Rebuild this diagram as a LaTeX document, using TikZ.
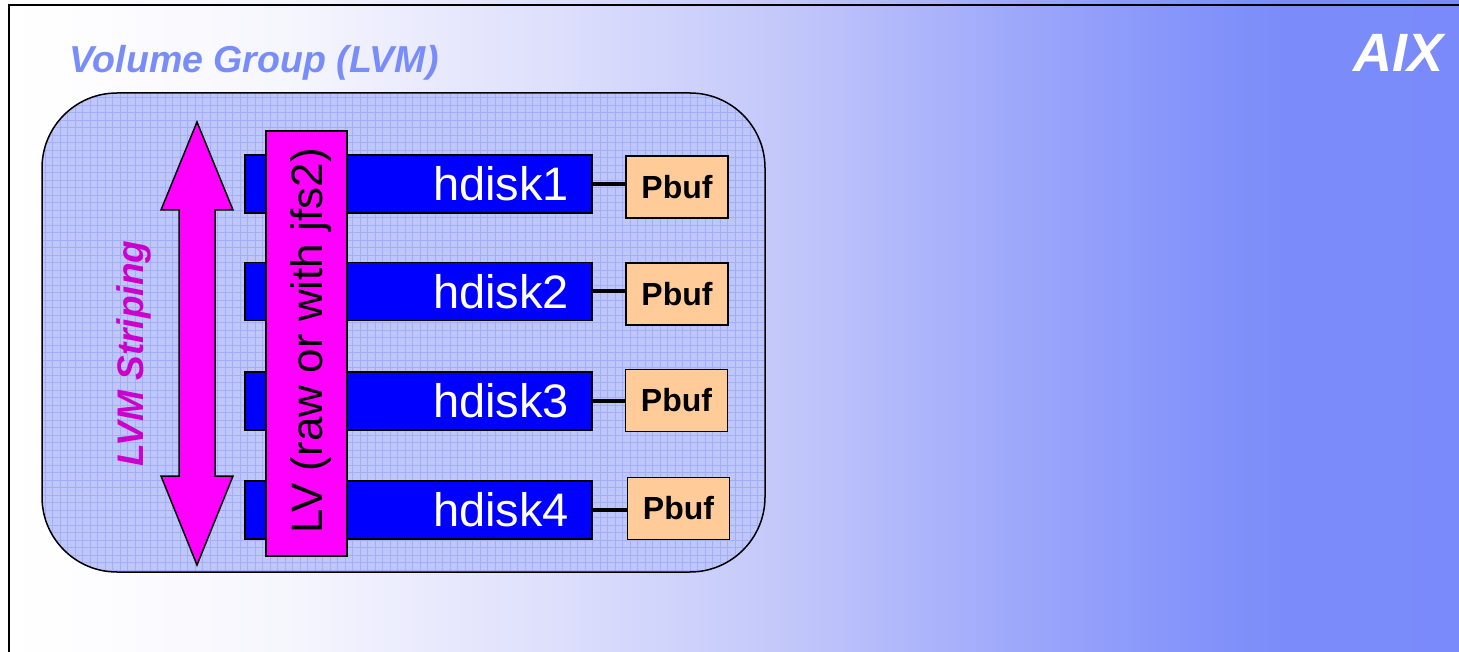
\documentclass[tikz,border=0pt]{standalone}
\usepackage{fontspec}
\setmainfont{Liberation Sans}
\usetikzlibrary{calc}

\definecolor{titleblue}{RGB}{120,140,250}
\definecolor{vgfill}{RGB}{190,198,250}
\definecolor{vggrid}{RGB}{162,174,248}
\definecolor{diskblue}{RGB}{0,0,255}
\definecolor{lvmag}{RGB}{255,0,255}
\definecolor{stripemag}{RGB}{204,0,204}
\definecolor{pbuffill}{RGB}{255,204,153}

% slide background: white on the left fading into blue on the right
\pgfdeclarehorizontalshading{slidebg}{100bp}{%
  rgb(0bp)=(1,1,1);
  rgb(25bp)=(1,1,1);
  rgb(28.4bp)=(0.992,0.992,1);
  rgb(35.3bp)=(0.961,0.961,0.992);
  rgb(43.8bp)=(0.871,0.878,0.988);
  rgb(52.4bp)=(0.757,0.776,0.980);
  rgb(59.3bp)=(0.627,0.667,0.980);
  rgb(64.4bp)=(0.541,0.596,0.980);
  rgb(69.0bp)=(0.482,0.549,0.980);
  rgb(75bp)=(0.478,0.541,0.980);
  rgb(100bp)=(0.478,0.541,0.980)}

\tikzset{
  disk/.style={rectangle, draw=black, line width=1.5pt, fill=diskblue,
    minimum width=347pt, minimum height=58pt, inner xsep=23pt, inner ysep=0pt,
    text width=301pt, align=right, text=white,
    font=\fontsize{47}{50}\selectfont},
  pbuf/.style={rectangle, draw=black, line width=1.5pt, fill=pbuffill,
    minimum width=102pt, minimum height=62pt, inner sep=0pt,
    font=\fontsize{32}{34}\selectfont\bfseries},
  link/.style={draw=black, line width=4pt},
  outline/.style={draw=black, line width=1.5pt},
}

\begin{document}
\begin{tikzpicture}[x=1pt,y=-1pt]
\useasboundingbox (0,0) rectangle (1459,652);

% background and frame
\shade[shading=slidebg] (0,0) rectangle (1459,652);
\draw[black, line width=2.5pt] (1459,5) -- (9,5) -- (9,652);

% titles
\node[anchor=base west, inner sep=0pt, text=titleblue,
      font=\fontsize{37.5}{40}\selectfont\bfseries\itshape] (vgtitle) at (69,73) {Volume Group (LVM)};
\node[anchor=base west, inner sep=0pt, text=white,
      font=\fontsize{54}{58}\selectfont\bfseries\itshape] (aix) at (1353,72) {AIX};

% volume group panel with its grid texture
\fill[vgfill, rounded corners=75pt] (42,93) rectangle (765,572);
\begin{scope}
  \clip[rounded corners=75pt] (42,93) rectangle (765,572);
  \draw[vggrid, line width=0.8pt, step=7.5pt] (42,93) grid (765,572);
\end{scope}
\draw[outline, rounded corners=75pt] (42,93) rectangle (765,572);

% striping arrow
\draw[outline, fill=lvmag]
  (197,122) -- (233,210) -- (215,210) -- (215,476) -- (233,476) -- (197,565)
  -- (161,476) -- (179,476) -- (179,210) -- (161,210) -- cycle;
\node[rotate=90, anchor=base west, inner sep=0pt, text=stripemag,
      font=\fontsize{37}{40}\selectfont\bfseries\itshape] (striping) at (143,467) {LVM Striping};

% physical disks
\node[disk] (h1) at (418.5,184) {hdisk1};
\node[disk] (h2) at (418.5,291.5) {hdisk2};
\node[disk] (h3) at (418.5,401) {hdisk3};
\node[disk] (h4) at (418.5,510) {hdisk4};

% logical volume spanning the disks
\node[outline, fill=lvmag, rectangle, minimum width=81pt, minimum height=425pt, inner sep=0pt] (lv) at (306.5,343.5) {};
\node[rotate=90, anchor=base, inner sep=0pt, font=\fontsize{44}{48}\selectfont] (lvtext) at (322,341) {LV (raw or with jfs2)};

% pbufs
\node[pbuf] (p1) at (677,187) {Pbuf};
\node[pbuf] (p2) at (677,294) {Pbuf};
\node[pbuf] (p3) at (676.5,400.5) {Pbuf};
\node[pbuf] (p4) at (678.5,508.5) {Pbuf};

\draw[link] (h1.east) -- (h1.east -| p1.west);
\draw[link] (h2.east) -- (h2.east -| p2.west);
\draw[link] (h3.east) -- (h3.east -| p3.west);
\draw[link] (h4.east) -- (h4.east -| p4.west);
\end{tikzpicture}
\end{document}
